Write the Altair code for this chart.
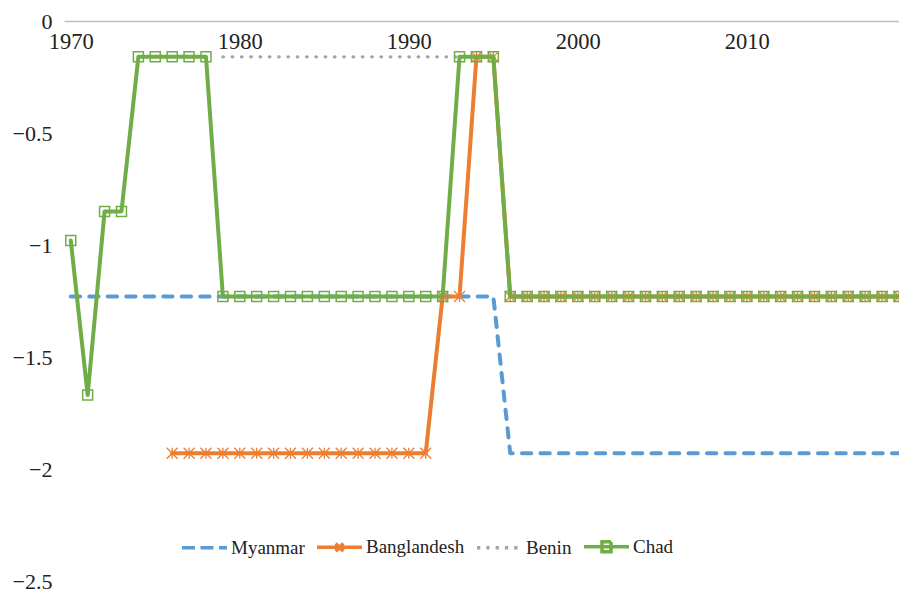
import altair as alt
import pandas as pd

years = list(range(1970, 2020))

countries = ["Myanmar", "Banglandesh", "Benin", "Chad"]
colors = ["#5b9bd5", "#ed7d31", "#a5a5a5", "#70ad47"]

myanmar = [
    -1.23, -1.23, -1.23, -1.23, -1.23, -1.23, -1.23, -1.23, -1.23, -1.23,
    -1.23, -1.23, -1.23, -1.23, -1.23, -1.23, -1.23, -1.23, -1.23, -1.23,
    -1.23, -1.23, -1.23, -1.23, -1.23, -1.23, -1.93, -1.93, -1.93, -1.93,
    -1.93, -1.93, -1.93, -1.93, -1.93, -1.93, -1.93, -1.93, -1.93, -1.93,
    -1.93, -1.93, -1.93, -1.93, -1.93, -1.93, -1.93, -1.93, -1.93, -1.93,
]
bangladesh = [
    None, None, None, None, None, None, -1.93, -1.93, -1.93, -1.93,
    -1.93, -1.93, -1.93, -1.93, -1.93, -1.93, -1.93, -1.93, -1.93, -1.93,
    -1.93, -1.93, -1.23, -1.23, -0.16, -0.16, -1.23, -1.23, -1.23, -1.23,
    -1.23, -1.23, -1.23, -1.23, -1.23, -1.23, -1.23, -1.23, -1.23, -1.23,
    -1.23, -1.23, -1.23, -1.23, -1.23, -1.23, -1.23, -1.23, -1.23, -1.23,
]
benin = [
    None, None, None, None, None, None, None, None, None, -0.16,
    -0.16, -0.16, -0.16, -0.16, -0.16, -0.16, -0.16, -0.16, -0.16, -0.16,
    -0.16, -0.16, -0.16, -0.16, -0.16, -0.16, -1.23, -1.23, -1.23, -1.23,
    -1.23, -1.23, -1.23, -1.23, -1.23, -1.23, -1.23, -1.23, -1.23, -1.23,
    -1.23, -1.23, -1.23, -1.23, -1.23, -1.23, -1.23, -1.23, -1.23, -1.23,
]
chad = [
    -0.98, -1.67, -0.85, -0.85, -0.16, -0.16, -0.16, -0.16, -0.16, -1.23,
    -1.23, -1.23, -1.23, -1.23, -1.23, -1.23, -1.23, -1.23, -1.23, -1.23,
    -1.23, -1.23, -1.23, -0.16, -0.16, -0.16, -1.23, -1.23, -1.23, -1.23,
    -1.23, -1.23, -1.23, -1.23, -1.23, -1.23, -1.23, -1.23, -1.23, -1.23,
    -1.23, -1.23, -1.23, -1.23, -1.23, -1.23, -1.23, -1.23, -1.23, -1.23,
]

x_ticks = [1970, 1980, 1990, 2000, 2010]
y_ticks = [0, -0.5, -1, -1.5, -2, -2.5]

rows = []
for name, series in zip(countries, [myanmar, bangladesh, benin, chad]):
    for yr, v in zip(years, series):
        if v is not None:
            rows.append({"year": yr, "value": v, "country": name})
df = pd.DataFrame(rows)

FONT = "Liberation Serif"
TEXT = "#222222"

legend = alt.Legend(
    title=None,
    orient="none",
    legendX=116,
    legendY=501,
    direction="horizontal",
    symbolSize=2025,
    symbolStrokeWidth=3.5,
    labelFont=FONT,
    labelFontSize=19,
    labelColor=TEXT,
    labelOffset=2,
    columnPadding=5,
    padding=0,
)

color = alt.Color("country:N", scale=alt.Scale(domain=countries, range=colors), legend=legend)

x = alt.X(
    "year:Q",
    scale=alt.Scale(domain=[1969.6, 2019], nice=False, zero=False),
    axis=alt.Axis(
        values=x_ticks, orient="bottom", offset=-560, ticks=False,
        labelExpr="'\u00a0\u00a0' + format(datum.value, 'd')",
        domainColor="#bfbfbf", domainWidth=1.5, labelFont=FONT, labelFontSize=22.5,
        labelColor=TEXT, labelPadding=9, title=None, grid=False,
    ),
)
y = alt.Y(
    "value:Q",
    scale=alt.Scale(domain=[-2.5, 0], nice=False, zero=False),
    axis=alt.Axis(
        values=y_ticks,
        labelExpr="datum.value == 0 ? '0' : '\u2212' + format(-datum.value, '~g')",
        domain=False, ticks=False, grid=False, labelPadding=12,
        labelFont=FONT, labelFontSize=22, labelColor=TEXT, title=None,
    ),
)

base = alt.Chart(df).encode(x=x, y=y, color=color)

def sel(name):
    return base.transform_filter(alt.datum.country == name)

myanmar_line = sel("Myanmar").mark_line(
    strokeWidth=4, strokeDash=[9.3, 9.2], strokeCap="round", strokeJoin="round")
bangla_line = sel("Banglandesh").mark_line(strokeWidth=4, strokeJoin="round", strokeCap="round")
bangla_pts = sel("Banglandesh").mark_point(
    shape="M-1,-1L1,1M-1,1L1,-1M0,-1V1", size=121, strokeWidth=1.3, filled=False,
    opacity=1, clip=True)
benin_line = sel("Benin").mark_line(
    strokeWidth=3.3, strokeDash=[0.5, 8.8], strokeCap="round", strokeJoin="round")
chad_line = sel("Chad").mark_line(strokeWidth=4, strokeJoin="round", strokeCap="round")
chad_pts = sel("Chad").mark_point(
    shape="square", size=100, strokeWidth=1.5, filled=False, opacity=1, clip=True)

legend_paths = [
    "M-1,0H1",
    "M-1,0H1M-0.17,-0.17L0.17,0.17M-0.17,0.17L0.17,-0.17",
    "M-1,0H1",
    "M-1,0H1M-0.2,-0.22H0.2V0.22H-0.2Z",
]
legend_dash = [[13, 5.5], [1, 0], [3.3, 6], [1, 0]]

legend_layer = base.transform_filter("datum.year < 0").mark_point(filled=False, opacity=1).encode(
    shape=alt.Shape("country:N", scale=alt.Scale(domain=countries, range=legend_paths), legend=legend),
    strokeDash=alt.StrokeDash("country:N", scale=alt.Scale(domain=countries, range=legend_dash), legend=legend),
)

chart = alt.layer(
    myanmar_line, bangla_line, bangla_pts, benin_line, chad_line, chad_pts, legend_layer
).properties(
    width=835, height=560,
    padding={"left": 64, "top": 21, "right": 0, "bottom": 12},
    autosize=alt.AutoSizeParams(type="none"),
    background="white",
).configure_view(stroke=None)

chart.save("out.html", embed_options={"renderer": "svg", "actions": False})
